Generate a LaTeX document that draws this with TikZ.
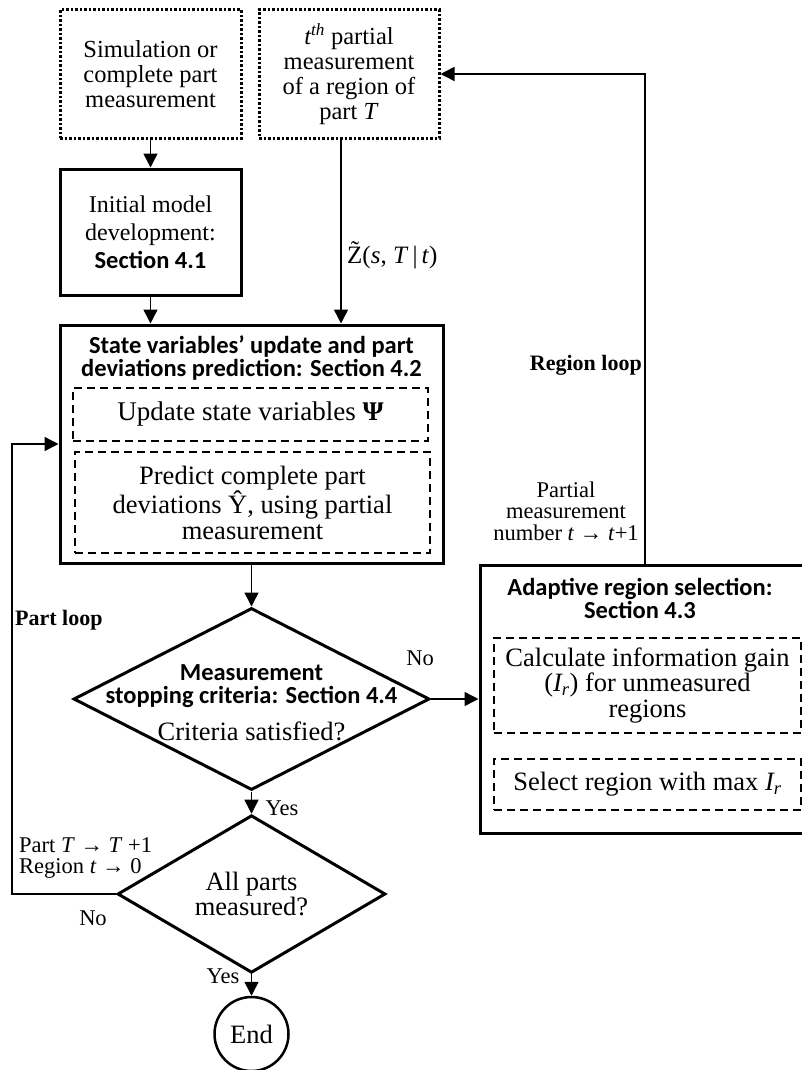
\documentclass[tikz,border=0pt]{standalone}
\usepackage{fontspec}
\setmainfont{Liberation Serif}
\newfontfamily\calibri{Carlito}
\usetikzlibrary{shapes.geometric, arrows.meta}

\begin{document}
\begin{tikzpicture}[
        x=1pt, y=-1pt,
        every node/.style = {
            inner sep=0pt,
            align=center,
            font=\fontsize{26.5}{25.5}\selectfont
        },
        dotbox/.style = {
            draw, line width=3pt,
            dash pattern=on 2.5pt off 2pt,
            font=\fontsize{24.5}{25}\selectfont
        },
        thickbox/.style = {
            draw, line width=3pt
        },
        dashbox/.style = {
            draw, line width=2.5pt,
            dash pattern=on 8pt off 5pt
        },
        decision/.style = {
            draw, diamond, line width=3pt
        },
        sectitle/.style = {
            font=\calibri\bfseries\fontsize{24.5}{23}\selectfont
        },
        note/.style = {
            font=\fontsize{22.5}{21.5}\selectfont
        },
        loopname/.style = {
            font=\bfseries\fontsize{22}{24}\selectfont
        },
        arr/.style = {
            line width=1.5pt,
            -{Triangle[length=14pt,width=14pt]}
        }]
        \useasboundingbox (0,0) rectangle (802,1070);

        \node[dotbox, minimum width=181pt, minimum height=128pt] (sim) at (150.5,74)
            {Simulation or\\complete part\\measurement};
        \node[dotbox, minimum width=180pt, minimum height=128pt] (part) at (349,74)
            {\textit{t\textsuperscript{th}} partial\\measurement\\of a region of\\part \textit{T}};
        \node[thickbox, minimum width=181pt, minimum height=126pt, font=\fontsize{24}{28}\selectfont] (init) at (150.5,232)
            {Initial model\\development:\\{\calibri\bfseries\fontsize{24.5}{28}\selectfont Section 4.1}};

        \node[thickbox, minimum width=383pt, minimum height=238pt] (upd) at (251.5,444) {};
        \node[sectitle] (updsec) at (251.5,358)
            {State variables’ update and part\\deviations prediction: Section 4.2};
        \node[dashbox, minimum width=355pt, minimum height=53pt, font=\fontsize{27}{25}\selectfont] (psi) at (250.5,414.5)
            {Update state variables \textbf{Ψ}};
        \node[dashbox, minimum width=355pt, minimum height=101pt] (pred) at (252.5,502.5)
            {Predict complete part\\deviations Ŷ, using partial\\measurement};

        \node[decision, minimum width=356pt, minimum height=182pt] (stop) at (251.5,699) {};
        \node[sectitle] (stopsec) at (251.5,686) {Measurement\\stopping criteria: Section 4.4};
        \node (stopq) at (251.5,731) {Criteria satisfied?};

        \node[decision, minimum width=268pt, minimum height=132pt] (all) at (251.5,894)
            {All parts\\measured?};
        \node[draw, circle, line width=2.5pt, minimum size=74pt] (finish) at (251.5,1034) {End};

        \node[thickbox, minimum width=330pt, minimum height=268pt] (adapt) at (645,699) {};
        \node[sectitle] (adaptsec) at (640,598) {Adaptive region selection:\\Section 4.3};
        \node[dashbox, minimum width=307pt, minimum height=95pt] (gain) at (647.5,685.5)
            {Calculate information gain\\(\textit{I\textsubscript{r}}) for unmeasured\\regions};
        \node[dashbox, minimum width=307pt, minimum height=51pt] (pick) at (647.5,784.5)
            {Select region with max \textit{I\textsubscript{r}}};

        \coordinate (zx) at (341,0);
        \coordinate (pl) at (12,894);

        \draw[arr] (sim) -- (init);
        \draw[arr] (init) -- (init |- upd.north);
        \draw[arr] (part.south -| zx) -- (upd.north -| zx);
        \draw[arr] (upd.south) -- (stop.north);
        \draw[arr] (stop.east) -- (stop.east -| adapt.west);
        \draw[arr] (adapt.north) |- (part.east);
        \draw[arr] (stop.south) -- (all.north);
        \draw[arr] (all.south) -- (finish.north);
        \draw[arr] (all.west) -- (pl) |- (upd.west);

        \node[anchor=west, font=\fontsize{25}{25}\selectfont] (zlbl) at (347,255)
            {\~{Z}(\textit{s}, \textit{T}\,|\,\textit{t})};
        \node[note] (nostop) at (420,658) {No};
        \node[loopname, anchor=east] (rloop) at (642,365) {Region loop};
        \node[note] (tnext) at (566,511) {Partial\\measurement\\number \textit{t} → \textit{t}+1};
        \node[note] (yesstop) at (282,808) {Yes};
        \node[note, anchor=west, align=left] (Tnext) at (19,858)
            {Part \textit{T} → \textit{T} +1\\Region \textit{t} → 0};
        \node[note] (noall) at (93,918) {No};
        \node[loopname, anchor=west] (ploop) at (15,620) {Part loop};
        \node[note] (yesall) at (223,976) {Yes};
    \end{tikzpicture}
\end{document}
